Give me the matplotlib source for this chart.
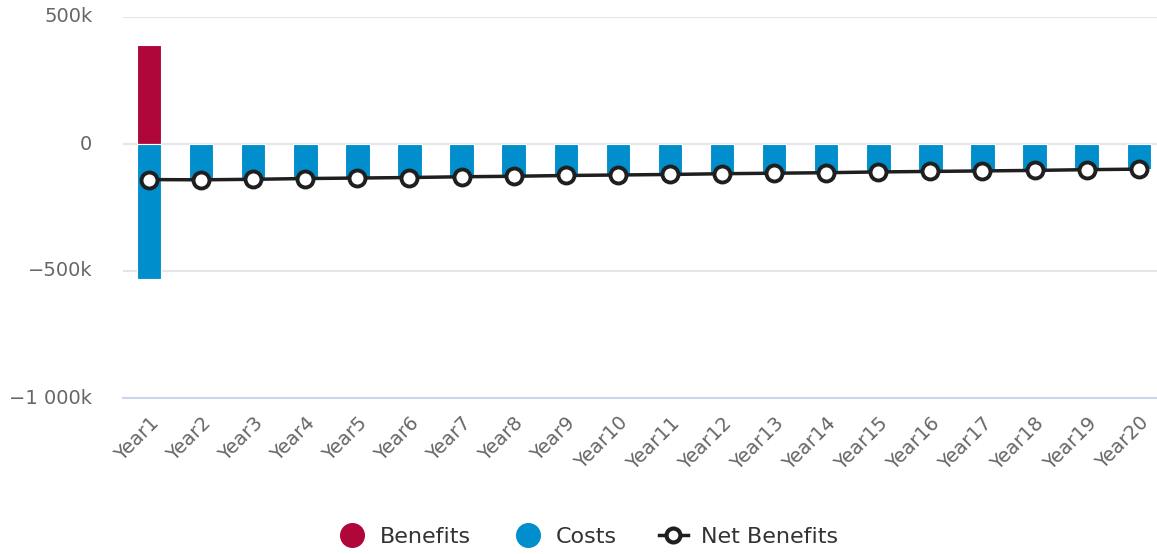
import matplotlib.pyplot as plt
from matplotlib.lines import Line2D
from matplotlib.ticker import FuncFormatter
import numpy as np

plt.rcParams['font.family'] = ['DejaVu Sans']

years = ['Year%d' % i for i in range(1, 21)]
benefits = [390, 0, 0, 0, 0, 0, 0, 0, 0, 0, 0, 0, 0, 0, 0, 0, 0, 0, 0, 0]
costs = [-530, -141, -139, -136, -134, -132, -129, -127, -124, -122,
         -120, -117, -115, -113, -110, -108, -106, -104, -101, -99]
net = [b + c for b, c in zip(benefits, costs)]

c_ben = '#b0073a'
c_cost = '#008fcc'
c_net = '#1f1f1f'

fig = plt.figure(figsize=(11.57, 5.54), dpi=100)
ax = fig.add_axes([123 / 1157, 1 - 398 / 554, 1 - 123 / 1157, (398 - 17) / 554])

x = np.arange(len(years))
ax.bar(x, benefits, width=0.47, color=c_ben, edgecolor='white', linewidth=0.8, zorder=2)
ax.bar(x, costs, width=0.47, color=c_cost, edgecolor='white', linewidth=0.8, zorder=2)
ax.plot(x, net, color=c_net, lw=2.5, marker='o', ms=11.5, mfc='white', mec=c_net, mew=2.8, zorder=3)

ax.set_xlim(-0.5, 19.35)
ax.set_ylim(-1000, 500)
ax.set_yticks([500, 0, -500, -1000])
ax.yaxis.set_major_formatter(FuncFormatter(
    lambda v, p: '0' if v == 0 else ('\u22121 000k' if v == -1000 else ('%dk' % v).replace('-', '\u2212'))))
ax.grid(axis='y', color='#e6e6e6', lw=1.5, zorder=0)
for s in ['top', 'right', 'left']:
    ax.spines[s].set_visible(False)
ax.spines['bottom'].set_color('#ccd6eb')
ax.spines['bottom'].set_linewidth(1.5)
ax.tick_params(axis='y', length=0, labelsize=14, labelcolor='#666666', pad=22)
ax.tick_params(axis='x', length=0, labelsize=14, labelcolor='#666666', pad=11)
ax.set_xticks(x)
ax.set_xticklabels(years, rotation=45, ha='right', rotation_mode='anchor')
for lab in ax.get_yticklabels():
    lab.set_va('center')

handles = [
    Line2D([], [], ls='none', marker='o', ms=17, color=c_ben),
    Line2D([], [], ls='none', marker='o', ms=17, color=c_cost),
    Line2D([], [], color=c_net, lw=2.5, marker='o', ms=10, mfc='white', mew=3),
]
fig.legend(handles, ['Benefits', 'Costs', 'Net Benefits'], loc='center',
           bbox_to_anchor=(0.508, 1 - 537 / 554), ncol=3, frameon=False, fontsize=16,
           handlelength=1.3, columnspacing=1.9, handletextpad=0.6, labelcolor='#333333')

fig.savefig('out.png', dpi=100)
